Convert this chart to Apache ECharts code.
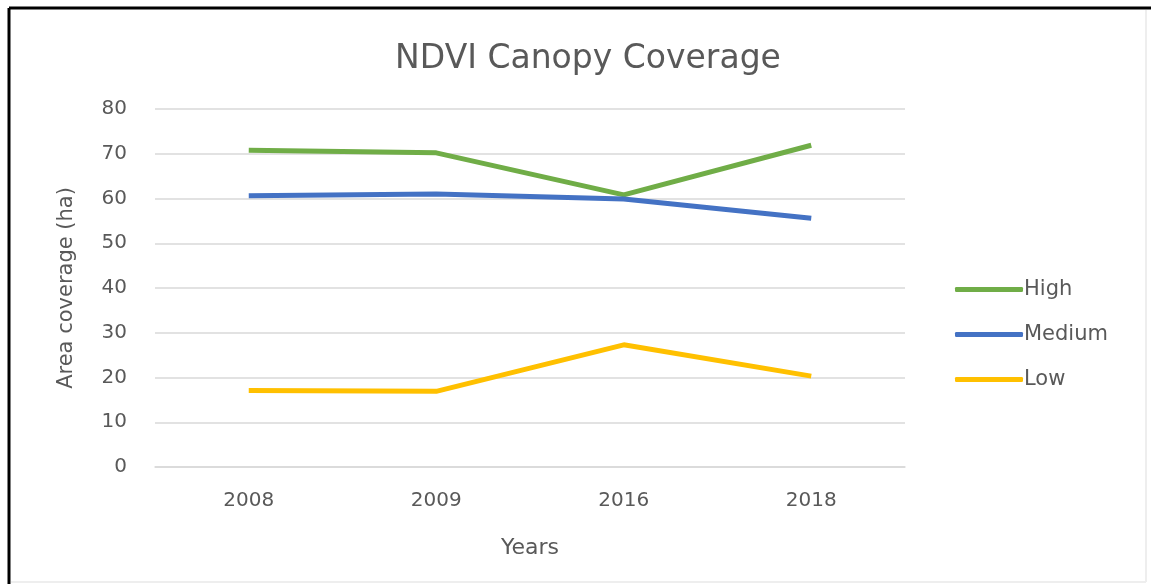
<!DOCTYPE html>
<html>
<head>
<meta charset="utf-8">
<script src="https://cdn.jsdelivr.net/npm/echarts@6/dist/echarts.min.js"></script>
<style>
  html, body { margin: 0; padding: 0; background: #fff; }
  #main { width: 1151px; height: 584px; }
</style>
</head>
<body>
<div id="main"></div>
<script>
var years = ['2008', '2009', '2016', '2018'];
var high = [70.8, 70.2, 60.8, 71.9];
var medium = [60.6, 61.0, 59.9, 55.6];
var low = [17.1, 16.9, 27.3, 20.3];

var chart = echarts.init(document.getElementById('main'));
var font = 'DejaVu Sans';

var option = {
  backgroundColor: '#fff',
  color: ['#70AD47', '#4472C4', '#FFC000'],
  title: {
    text: 'NDVI Canopy Coverage',
    left: 583,
    textAlign: 'center',
    top: 38,
    textStyle: { fontFamily: font, fontSize: 33, fontWeight: 'normal', color: '#595959' }
  },
  graphic: [
    { type: 'line', shape: { x1: 9, y1: 8, x2: 1151, y2: 8 }, style: { stroke: '#000', lineWidth: 3 } },
    { type: 'line', shape: { x1: 9, y1: 8, x2: 9, y2: 584 }, style: { stroke: '#000', lineWidth: 3 } },
    { type: 'line', shape: { x1: 1146, y1: 10, x2: 1146, y2: 582 }, style: { stroke: '#eee', lineWidth: 2 } },
    { type: 'line', shape: { x1: 11, y1: 582, x2: 1146, y2: 582 }, style: { stroke: '#eee', lineWidth: 2 } }
  ],
  legend: {
    orient: 'vertical',
    left: 950,
    top: 274,
    icon: 'roundRect',
    itemWidth: 68,
    itemHeight: 5,
    itemGap: 24,
    data: ['High', 'Medium', 'Low'],
    textStyle: { fontFamily: font, fontSize: 21, color: '#595959', padding: [0, 0, 0, -4] }
  },
  grid: { left: 155, right: 246, top: 109, bottom: 117 },
  xAxis: {
    type: 'category',
    data: years,
    boundaryGap: true,
    name: 'Years',
    nameLocation: 'middle',
    nameGap: 70,
    nameTextStyle: { fontFamily: font, fontSize: 22, color: '#595959' },
    axisLine: { lineStyle: { color: '#D9D9D9', width: 1.5 } },
    axisTick: { show: false },
    axisLabel: { margin: 24, fontFamily: font, fontSize: 20, color: '#595959' }
  },
  yAxis: {
    type: 'value',
    min: 0,
    max: 80,
    interval: 10,
    name: 'Area coverage (ha)',
    nameLocation: 'middle',
    nameGap: 78,
    nameTextStyle: { fontFamily: font, fontSize: 21, color: '#595959' },
    axisLine: { show: false },
    axisTick: { show: false },
    axisLabel: { margin: 28, fontFamily: font, fontSize: 20, color: '#595959' },
    splitLine: { lineStyle: { color: '#D9D9D9', width: 1.5 } }
  },
  series: [
    { name: 'High', type: 'line', data: high, symbol: 'none', lineStyle: { width: 5 } },
    { name: 'Medium', type: 'line', data: medium, symbol: 'none', lineStyle: { width: 5 } },
    { name: 'Low', type: 'line', data: low, symbol: 'none', lineStyle: { width: 5 } }
  ]
};

chart.setOption(option);
</script>
</body>
</html>
